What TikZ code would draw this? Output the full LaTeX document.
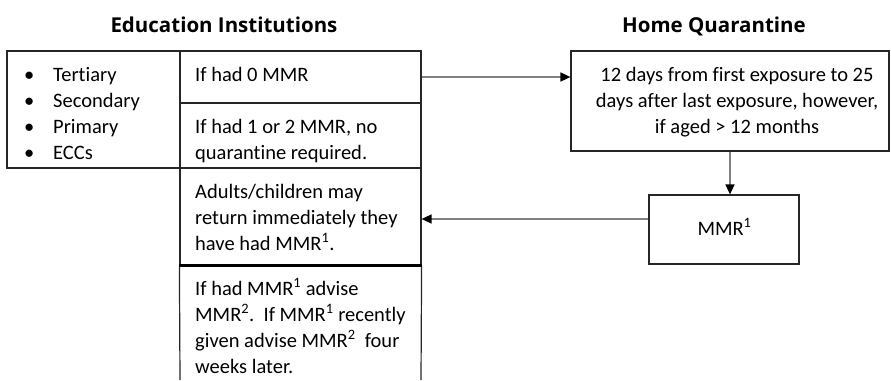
\documentclass[tikz,border=0pt]{standalone}
\usepackage{fontspec}
\setmainfont{Carlito}[Ligatures=NoCommon]
\newfontfamily\titlefont{Open Sans}
\usetikzlibrary{arrows.meta}
\definecolor{linegray}{HTML}{808080}
\definecolor{boxline}{HTML}{262626}
\begin{document}
\begin{tikzpicture}[x=1pt,y=-1pt,
  body/.style={font=\fontsize{20.5}{26}\selectfont, inner sep=0pt},
  cell/.style={draw=boxline, line width=1.2pt, inner sep=0pt},
  ttl/.style={font=\titlefont\bfseries\fontsize{20.5}{24}\selectfont, inner sep=0pt, anchor=base},
  conn/.style={draw=linegray, line width=1.6pt, -{Triangle[length=10pt,width=9pt,fill=black,color=black]}},
  txt/.style={body, align=left, anchor=base west}
]
\useasboundingbox (0,0) rectangle (891,380);
% titles
\node[ttl] (edu) at (224,32) {Education Institutions};
\node[ttl] (home) at (714,32) {Home Quarantine};
% left table
\node[cell, minimum width=173pt, minimum height=117pt] (types) at (93.5,109.5) {};
\node[cell, minimum width=241pt, minimum height=52pt] (A) at (300.5,77) {};
\node[cell, minimum width=241pt, minimum height=65pt] (B) at (300.5,135.5) {};
\node[cell, minimum width=241pt, minimum height=97pt] (C) at (300.5,216.5) {};
\coordinate (dl) at (180,380);
\coordinate (dr) at (421,380);
\draw[boxline, line width=1.2pt] (C.south west) -- (dl);
\draw[boxline, line width=1.2pt] (C.south east) -- (dr);
\draw[black, line width=2.4pt] (C.south west) -- (C.south east);
% texts (base anchor = baseline of the last line)
\node[txt] (tlist) at (24,159) {\makebox[29pt][l]{\textbullet}Tertiary\\\makebox[29pt][l]{\textbullet}Secondary\\\makebox[29pt][l]{\textbullet}Primary\\\makebox[29pt][l]{\textbullet}ECCs};
\node[txt] (tA) at (195,81) {If had 0 MMR};
\node[txt] (tB) at (195,159) {If had 1 or 2 MMR, no\\quarantine required.};
\node[txt] (tC) at (195,250) {Adults/children may\\return immediately they\\have had MMR\textsuperscript{1}.};
\node[txt] (tD) at (195,373) {If had MMR\textsuperscript{1} advise\\MMR\textsuperscript{2}.\ \ If MMR\textsuperscript{1} recently\\given advise MMR\textsuperscript{2}\ \ four\\weeks later.};
% right boxes
\node[cell, minimum width=318pt, minimum height=100pt] (Q) at (730,101) {};
\node[body, align=center, anchor=base] (tQ) at (737,133) {12 days from first exposure to 25\\days after last exposure, however,\\if aged > 12 months};
\node[cell, minimum width=150pt, minimum height=69pt] (M) at (724,229.5) {};
\node[body, anchor=base] (tM) at (724.5,235) {MMR\textsuperscript{1}};
% connectors
\draw[conn] (A.east) -- (A.east -| Q.west);
\draw[conn] (Q.south) -- (Q.south |- M.north);
\draw[conn] ([yshift=10.5pt]M.west) -- ([yshift=10.5pt]M.west -| C.east);
\end{tikzpicture}
\end{document}
